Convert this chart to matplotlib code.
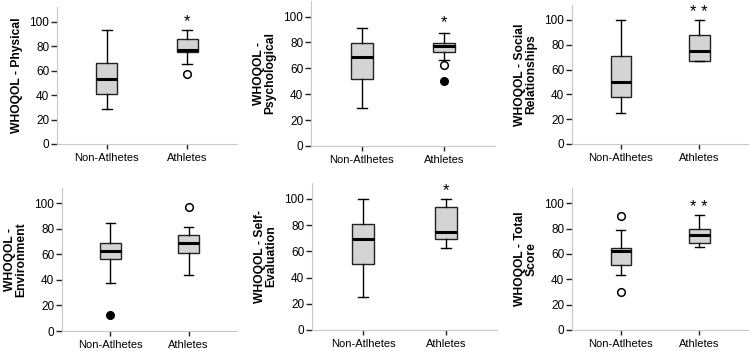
import matplotlib
matplotlib.use("Agg")
import matplotlib.pyplot as plt

# nhom so sanh
groups = ['Non-Atlhetes', 'Athletes']

# nhan truc y cua tung o
ylabels = ['WHOQOL - Physical', 'WHOQOL -\nPsychological', 'WHOQOL - Social\nRelationships',
           'WHOQOL -\nEnvironment', 'WHOQOL - Self-\nEvaluation', 'WHOQOL - Total\nScore']

# thong so hop: [whisker duoi, Q1, trung vi, Q3, whisker tren] cho (Non, Athletes)
physical = [[29, 41, 53.5, 66, 93], [65, 75, 77, 86, 93]]
psychological = [[29, 51.5, 68.5, 79.5, 91.5], [66.5, 72.5, 77, 79.5, 87]]
social = [[25, 37.5, 50, 71, 100], [66.7, 66.7, 75, 88, 100]]
environment = [[37.5, 56.5, 63, 69, 84.5], [44, 61, 69, 75.5, 81.5]]
self_eval = [[25, 50, 69, 80.5, 100], [62.5, 69, 75, 94, 100]]
total = [[43, 51.5, 62, 65, 78.5], [65.5, 69, 75, 80, 91]]

# ngoai lai: (diem mo o), (diem dac)
open_out = [[[], [57.5]], [[], [62.5]], [[], []], [[], [97]], [[], []], [[90, 30], []]]
filled_out = [[[], []], [[], [50]], [[], []], [[12.5], []], [[], []], [[], []]]

# dau sao y nghia thong ke tren nhom Athletes
stars = ['*', '*', '* *', '', '*', '* *']
star_y = [100, 95.5, 106, 0, 106, 97]

all_stats = [physical, psychological, social, environment, self_eval, total]

# vi tri cac o tinh bang pixel: (trai, phai, duoi, tren)
boxes_px = [(57, 237, 144, 7), (311, 495, 146, 1), (572, 748, 144, 5),
            (62, 237, 331, 188), (312, 497, 330, 183), (572, 748, 330, 188)]

W, H = 750, 351
fig = plt.figure(figsize=(7.5, 3.51), dpi=100)
plt.rcParams['font.family'] = ['Liberation Sans', 'DejaVu Sans']

for i in range(6):
    l, r, b, t = boxes_px[i]
    ax = fig.add_axes([l / W, 1 - b / H, (r - l) / W, (b - t) / H])
    stats = []
    for j in range(2):
        lo, q1, med, q3, hi = all_stats[i][j]
        stats.append(dict(whislo=lo, q1=q1, med=med, q3=q3, whishi=hi, fliers=[]))
    ax.bxp(stats, positions=[1, 2], widths=0.26, capwidths=0.12, patch_artist=True,
           showfliers=False,
           boxprops=dict(facecolor='#d4d4d4', edgecolor='#222222', linewidth=1.0),
           medianprops=dict(color='black', linewidth=2.2),
           whiskerprops=dict(color='black', linewidth=1.0),
           capprops=dict(color='black', linewidth=1.0))
    for j in range(2):
        ys = open_out[i][j]
        if ys:
            ax.plot([j + 1] * len(ys), ys, 'o', mfc='white', mec='black', ms=5.5, mew=1.1)
        ys = filled_out[i][j]
        if ys:
            ax.plot([j + 1] * len(ys), ys, 'o', mfc='black', mec='black', ms=5.5)
    if stars[i]:
        ax.text(2, star_y[i], stars[i], ha='center', va='center', fontsize=12)

    ax.set_xlim(0.38, 2.62)
    ax.set_ylim(0, 112)
    ax.set_yticks([0, 20, 40, 60, 80, 100])
    ax.set_xticks([1, 2])
    ax.set_xticklabels(groups)
    ax.tick_params(axis='y', labelsize=8.5, length=4.5, width=1, color='#222222', pad=1)
    ax.tick_params(axis='x', labelsize=8, length=3.6, width=1, color='#222222', pad=3.2)
    for s in ['top', 'right']:
        ax.spines[s].set_visible(False)
    for s in ['left', 'bottom']:
        ax.spines[s].set_color('#c8c8c8')
    ax.set_ylabel(ylabels[i], fontsize=8.7, fontweight='bold', linespacing=0.9, labelpad=5)
    ax.patch.set_alpha(0)

fig.savefig('out.png', dpi=100)
